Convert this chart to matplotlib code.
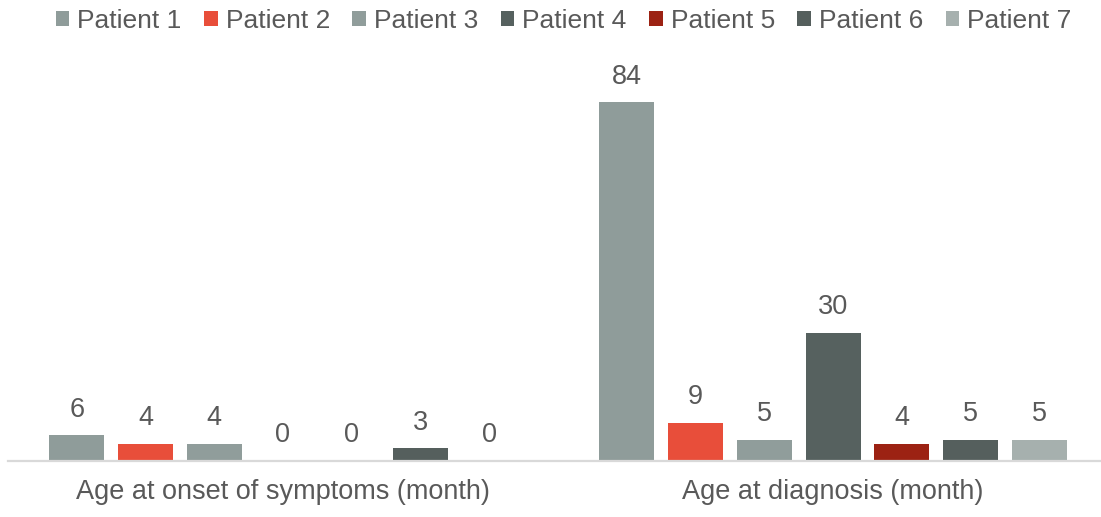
import numpy as np
import matplotlib.pyplot as plt
from matplotlib.patches import Patch

plt.rcParams['font.family'] = ['Liberation Sans', 'DejaVu Sans']

categories = ['Age at onset of symptoms (month)', 'Age at diagnosis (month)']
patients = ['Patient 1', 'Patient 2', 'Patient 3', 'Patient 4',
            'Patient 5', 'Patient 6', 'Patient 7']
# one row per patient: [onset, diagnosis]
values = [
    [6, 84],
    [4, 9],
    [4, 5],
    [0, 30],
    [0, 4],
    [3, 5],
    [0, 5],
]
colors = ['#8F9C9A', '#E84E3A', '#909D9B', '#56615F',
          '#9C2213', '#555F5D', '#A6B0AE']

text_color = '#595959'

fig = plt.figure(figsize=(11.01, 5.17), dpi=100)
ax = fig.add_axes([8 / 1101, 56 / 517, 1093 / 1101, 401 / 517])

ind = np.arange(len(categories))
width = 0.1
step = 0.125

for i, (name, vals, c) in enumerate(zip(patients, values, colors)):
    xs = ind + (i - 3) * step
    ax.bar(xs, vals, width, color=c, label=name)
    for x, v in zip(xs, vals):
        ax.annotate(str(v), (x, v), xytext=(0, 9), textcoords='offset points',
                    ha='center', va='bottom', fontsize=19.5, color=text_color)

ax.set_xlim(-0.5, -0.5 + 1093 / 550)
ax.set_ylim(0, 84 * 401 / 359)

for s in ['top', 'right', 'left']:
    ax.spines[s].set_visible(False)
ax.spines['bottom'].set_color('#D9D9D9')
ax.spines['bottom'].set_linewidth(1.6)
ax.set_yticks([])
ax.set_xticks(ind)
ax.set_xticklabels(categories)
ax.tick_params(axis='x', length=0, pad=13, labelsize=19.5, labelcolor=text_color)

handles = [Patch(facecolor=c, edgecolor='none') for c in colors]
fig.legend(handles, patients, loc='center', bbox_to_anchor=(0.512, 1 - 21 / 517),
           ncol=7, frameon=False, fontsize=19, labelcolor=text_color,
           handlelength=0.52, handleheight=0.52, handletextpad=0.3,
           columnspacing=0.85, borderaxespad=0)

fig.savefig('out.png', dpi=100)
plt.close(fig)
